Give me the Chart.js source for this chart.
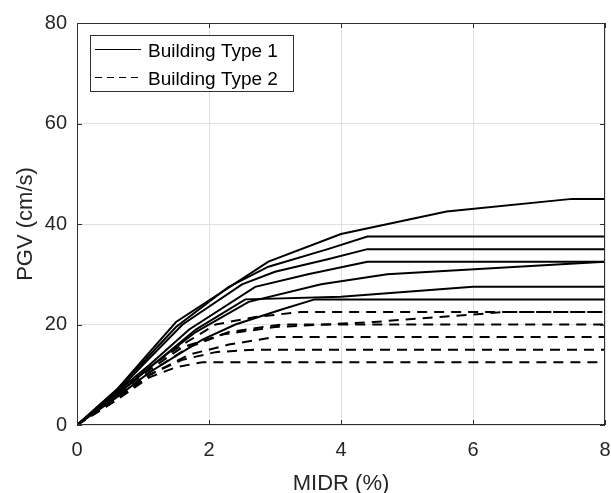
<!DOCTYPE html>
<html>
<head>
<meta charset="utf-8">
<script src="https://cdn.jsdelivr.net/npm/chart.js@4.4.0/dist/chart.umd.min.js"></script>
<style>
  html, body { margin: 0; padding: 0; background: #fff; }
  #box { width: 611px; height: 493px; }
</style>
</head>
<body>
<div id="box"><canvas id="chart"></canvas></div>
<script>
// Building Type 1 curves (MIDR %, PGV cm/s)
const type1Curve1 = [[0,0],[0.6,7],[1,13],[1.5,20.5],[2.2,26.5],[2.9,32.5],[4,38],[5.6,42.5],[7.5,45],[8,45]];
const type1Curve2 = [[0,0],[0.6,7],[1,12.5],[1.5,19.5],[2.3,27.5],[2.9,31.5],[3.8,35],[4.4,37.5],[8,37.5]];
const type1Curve3 = [[0,0],[0.6,6.5],[1,12],[1.6,20],[2.5,28],[3,30.5],[3.8,33],[4.4,35],[8,35]];
const type1Curve4 = [[0,0],[0.6,6.5],[1.1,12],[1.7,19],[2.7,27.5],[3.5,30],[4.4,32.5],[8,32.5]];
const type1Curve5 = [[0,0],[0.6,6],[1.1,11.5],[1.8,18.5],[2.6,24.5],[3.7,28],[4.7,30],[8,32.5]];
const type1Curve6 = [[0,0],[0.6,6],[1.2,12.5],[1.8,19],[2.55,25],[4,25.5],[6,27.5],[8,27.5]];
const type1Curve7 = [[0,0],[0.6,5.5],[1.1,10.5],[1.9,17],[2.4,20],[3.1,23],[3.6,25],[8,25]];

// Building Type 2 curves
const type2Curve1 = [[0,0],[0.6,6],[1.1,11.5],[1.6,16],[2.1,20],[2.7,21.5],[3.4,22.5],[8,22.5]];
const type2Curve2 = [[0,0],[0.6,6],[1.1,11],[1.6,15.5],[2.2,18],[3,19.5],[4.5,20.5],[6.5,22.5],[8,22.5]];
const type2Curve3 = [[0,0],[0.6,5.5],[1.1,10.5],[1.7,15.5],[2.3,18.5],[3.1,20],[8,20]];
const type2Curve4 = [[0,0],[0.6,5.5],[1.1,10],[1.7,14],[2.3,16],[3,17.5],[8,17.5]];
const type2Curve5 = [[0,0],[0.6,5],[1.1,10],[1.6,13],[2.1,14.5],[2.7,15],[8,15]];
const type2Curve6 = [[0,0],[0.6,5],[1.1,9.5],[1.5,11.5],[1.9,12.5],[8,12.5]];

const seriesNames = ['Building Type 1', 'Building Type 2'];
const xTicks = [0, 2, 4, 6, 8];
const yTicks = [0, 20, 40, 60, 80];

const type1 = [type1Curve1, type1Curve2, type1Curve3, type1Curve4, type1Curve5, type1Curve6, type1Curve7];
const type2 = [type2Curve1, type2Curve2, type2Curve3, type2Curve4, type2Curve5, type2Curve6];

const DASH = [10, 7];
const FONT = '"Liberation Sans", Arial, sans-serif';
const toPts = c => c.map(p => ({ x: p[0], y: p[1] }));

const datasets = [];
type1.forEach(c => datasets.push({
    label: seriesNames[0], data: toPts(c), borderColor: '#000', borderWidth: 2,
    pointRadius: 0, fill: false, tension: 0
}));
type2.forEach(c => datasets.push({
    label: seriesNames[1], data: toPts(c), borderColor: '#000', borderWidth: 2,
    borderDash: DASH, pointRadius: 0, fill: false, tension: 0
}));

// matlab-ish box, inward ticks and legend inside the axes
const boxPlugin = {
    id: 'boxPlugin',
    afterDraw(chart) {
        const { ctx, chartArea: a, scales } = chart;
        ctx.save();
        ctx.strokeStyle = '#303030';
        ctx.lineWidth = 1;
        ctx.strokeRect(a.left + 0.5, a.top + 0.5, a.right - a.left - 1, a.bottom - a.top - 1);
        ctx.beginPath();
        xTicks.forEach(v => {
            const px = Math.round(scales.x.getPixelForValue(v)) + 0.5;
            ctx.moveTo(px, a.bottom); ctx.lineTo(px, a.bottom - 5);
            ctx.moveTo(px, a.top); ctx.lineTo(px, a.top + 5);
        });
        yTicks.forEach(v => {
            const py = Math.round(scales.y.getPixelForValue(v)) + 0.5;
            ctx.moveTo(a.left, py); ctx.lineTo(a.left + 5, py);
            ctx.moveTo(a.right, py); ctx.lineTo(a.right - 5, py);
        });
        ctx.stroke();

        // legend
        const lx = 90, ly = 35, lw = 203, lh = 56;
        ctx.fillStyle = '#fff';
        ctx.fillRect(lx, ly, lw, lh);
        ctx.strokeStyle = '#303030';
        ctx.strokeRect(lx + 0.5, ly + 0.5, lw, lh);
        ctx.font = '19px ' + FONT;
        ctx.textBaseline = 'middle';
        ctx.fillStyle = '#000';
        seriesNames.forEach((name, i) => {
            const y = Math.round(ly + 14 + i * 28) + 0.5;
            ctx.beginPath();
            ctx.setLineDash(i === 0 ? [] : [7, 5]);
            ctx.strokeStyle = '#000';
            ctx.moveTo(lx + 5, y); ctx.lineTo(lx + 51, y);
            ctx.stroke();
            ctx.setLineDash([]);
            ctx.fillText(name, lx + 58, y + 2);
        });
        ctx.restore();
    }
};

const tickFont = { family: FONT, size: 20 };
const titleFont = { family: FONT, size: 22 };

new Chart(document.getElementById('chart'), {
    type: 'line',
    data: { datasets },
    options: {
        responsive: true,
        maintainAspectRatio: false,
        animation: false,
        layout: { padding: { top: 23, right: 6, left: 0, bottom: 0 } },
        plugins: { legend: { display: false }, tooltip: { enabled: false } },
        scales: {
            x: {
                type: 'linear', min: 0, max: 8,
                afterFit: s => { s.height = 68; s.paddingLeft = 0; s.paddingRight = 0; },
                ticks: { stepSize: 2, color: '#262626', font: tickFont, padding: 13, maxRotation: 0 },
                grid: { color: '#e0e0e0', drawTicks: false },
                border: { display: false },
                title: { display: true, text: 'MIDR (%)', color: '#262626', font: titleFont, padding: { top: 0, bottom: -4 } }
            },
            y: {
                type: 'linear', min: 0, max: 80,
                afterFit: s => { s.width = 77; s.paddingTop = 0; s.paddingBottom = 0; },
                ticks: { stepSize: 20, color: '#262626', font: tickFont, padding: 10 },
                grid: { color: '#e0e0e0', drawTicks: false },
                border: { display: false },
                title: { display: true, text: 'PGV (cm/s)', color: '#262626', font: titleFont, padding: { top: 13, bottom: 0 } }
            }
        }
    },
    plugins: [boxPlugin]
});
</script>
</body>
</html>
